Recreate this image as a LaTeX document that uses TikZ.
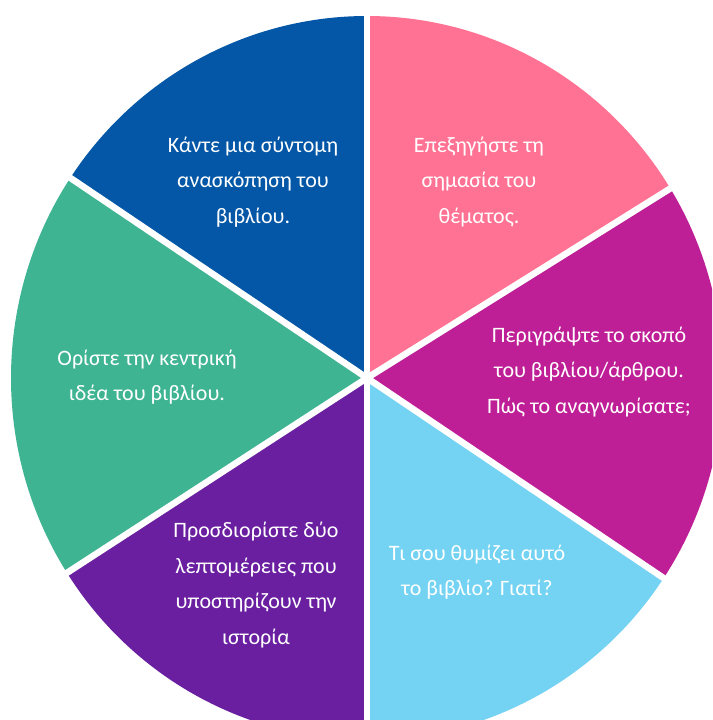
\documentclass[tikz,border=0pt]{standalone}
\usepackage{fontspec}
\setmainfont{Carlito}
\definecolor{cBlue}{RGB}{3,87,166}
\definecolor{cPink}{RGB}{255,114,147}
\definecolor{cMagenta}{RGB}{190,30,150}
\definecolor{cGreen}{RGB}{62,180,146}
\definecolor{cPurple}{RGB}{106,31,160}
\definecolor{cLight}{RGB}{116,211,242}
\tikzset{
  lbl/.style={align=center, text=white, inner sep=0pt, font=\fontsize{22}{35.5}\selectfont},
  gap/.style={white, line width=6.5pt},
  sec/.style={draw=none}
}
\begin{document}
\begin{tikzpicture}[x=1pt,y=1pt]
\useasboundingbox (0,0) rectangle (712,720);
\clip (0,0) rectangle (712,720);
\coordinate (C) at (367,342);
\def\rx{356}
\def\ry{362}
\fill[cPink]    (C) -- ++(32:\rx pt and \ry pt)  arc[start angle=32,  end angle=90,  x radius=\rx pt, y radius=\ry pt] -- cycle;
\fill[cBlue]    (C) -- ++(90:\rx pt and \ry pt)  arc[start angle=90,  end angle=146, x radius=\rx pt, y radius=\ry pt] -- cycle;
\fill[cGreen]   (C) -- ++(146:\rx pt and \ry pt) arc[start angle=146, end angle=213, x radius=\rx pt, y radius=\ry pt] -- cycle;
\fill[cPurple]  (C) -- ++(213:\rx pt and \ry pt) arc[start angle=213, end angle=270, x radius=\rx pt, y radius=\ry pt] -- cycle;
\fill[cLight]   (C) -- ++(270:\rx pt and \ry pt) arc[start angle=270, end angle=326, x radius=\rx pt, y radius=\ry pt] -- cycle;
\fill[cMagenta] (C) -- ++(326:\rx pt and \ry pt) arc[start angle=326, end angle=392, x radius=\rx pt, y radius=\ry pt] -- cycle;
\foreach \a in {32,90,146,213,270,326} \draw[gap] (C) -- ++(\a:420pt);
\node[lbl] (tblue) at (253,538) {Κάντε μια σύντομη\\ανασκόπηση του\\βιβλίου.};
\node[lbl] (tpink) at (479,538) {Επεξηγήστε τη\\σημασία του\\θέματος.};
\node[lbl] (tmag) at (589,348) {Περιγράψτε το σκοπό\\του βιβλίου/άρθρου.\\Πώς το αναγνωρίσατε;};
\node[lbl] (tgreen) at (147,343) {Ορίστε την κεντρική\\ιδέα του βιβλίου.};
\node[lbl] (tpurple) at (256,135) {Προσδιορίστε δύο\\λεπτομέρειες που\\υποστηρίζουν την\\ιστορία};
\node[lbl] (tlight) at (477,148) {Τι σου θυμίζει αυτό\\το βιβλίο? Γιατί?};
\end{tikzpicture}
\end{document}
